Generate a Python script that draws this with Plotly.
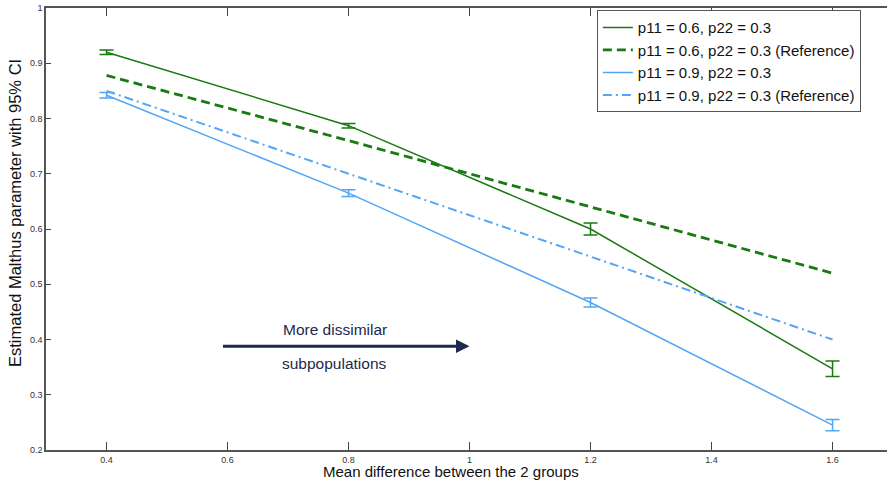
import plotly.graph_objects as go

x_vals = [0.4, 0.8, 1.2, 1.6]
green_est = [0.920, 0.787, 0.600, 0.347]
green_err = [0.004, 0.004, 0.011, 0.014]
green_ref = [0.878, 0.760, 0.640, 0.520]
blue_est = [0.842, 0.665, 0.467, 0.245]
blue_err = [0.005, 0.006, 0.008, 0.010]
blue_ref = [0.850, 0.700, 0.550, 0.400]

x_ticks = [0.4, 0.6, 0.8, 1.0, 1.2, 1.4, 1.6]
x_tick_labels = ["0.4", "0.6", "0.8", "1", "1.2", "1.4", "1.6"]
y_ticks = [0.2, 0.3, 0.4, 0.5, 0.6, 0.7, 0.8, 0.9, 1.0]
y_tick_labels = ["0.2", "0.3", "0.4", "0.5", "0.6", "0.7", "0.8", "0.9", "1"]

GREEN = "#1a7a12"
BLUE = "#55a5f5"
NAVY = "#1c2a4e"
FONT = "Liberation Sans, Arial, sans-serif"

fig = go.Figure()
fig.add_trace(go.Scatter(
    x=x_vals, y=green_est, mode="lines", name="p11 = 0.6, p22 = 0.3",
    line=dict(color=GREEN, width=1.5),
    error_y=dict(type="data", array=green_err, color=GREEN, thickness=1.5, width=7)))
fig.add_trace(go.Scatter(
    x=x_vals, y=green_ref, mode="lines", name="p11 = 0.6, p22 = 0.3 (Reference)",
    line=dict(color=GREEN, width=2.8, dash="9px,5px")))
fig.add_trace(go.Scatter(
    x=x_vals, y=blue_est, mode="lines", name="p11 = 0.9, p22 = 0.3",
    line=dict(color=BLUE, width=1.5),
    error_y=dict(type="data", array=blue_err, color=BLUE, thickness=1.5, width=7)))
fig.add_trace(go.Scatter(
    x=x_vals, y=blue_ref, mode="lines", name="p11 = 0.9, p22 = 0.3 (Reference)",
    line=dict(color=BLUE, width=2, dash="9px,4px,2px,4px")))

fig.add_annotation(x=1.0, y=0.388, ax=0.59, ay=0.388, xref="x", yref="y",
                   axref="x", ayref="y", showarrow=True, arrowhead=2,
                   arrowsize=0.9, arrowwidth=3, arrowcolor=NAVY, text="")
fig.add_annotation(x=0.778, y=0.418, xref="x", yref="y", showarrow=False,
                   text="More dissimilar", font=dict(size=15.5, color=NAVY, family=FONT))
fig.add_annotation(x=0.777, y=0.357, xref="x", yref="y", showarrow=False,
                   text="subpopulations", font=dict(size=15.5, color=NAVY, family=FONT))

# axis titles (placed as annotations relative to plot area)
fig.add_annotation(x=(451 - 46) / 841, y=-(471 - 450) / 442, xref="paper", yref="paper",
                   showarrow=False, xanchor="center", yanchor="middle",
                   text="Mean difference between the 2 groups",
                   font=dict(size=15, color="#111", family=FONT))
fig.add_annotation(x=-(46 - 15) / 841, y=(450 - 213) / 442, xref="paper", yref="paper",
                   showarrow=False, xanchor="center", yanchor="middle", textangle=-90,
                   text="Estimated Malthus parameter with 95% CI",
                   font=dict(size=16.5, color="#111", family=FONT))

fig.update_layout(
    width=887, height=489,
    margin=dict(l=46, r=0, t=8, b=39),
    plot_bgcolor="white", paper_bgcolor="white",
    font=dict(family=FONT, color="#111"),
    showlegend=True,
    legend=dict(x=0.655, y=0.995, xanchor="left", yanchor="top",
                bgcolor="white", bordercolor="#555", borderwidth=1,
                font=dict(size=15, color="#111"), tracegroupgap=0,
                itemwidth=30),
    xaxis=dict(range=[0.3, 1.69], tickvals=x_ticks, ticktext=x_tick_labels,
               ticks="inside", ticklen=8, tickwidth=1, tickcolor="#444",
               showline=True, linecolor="#555", linewidth=1.5, mirror="ticks",
               showgrid=False, zeroline=False, automargin=False,
               tickfont=dict(size=9, color="#333")),
    yaxis=dict(range=[0.2, 1.0], tickvals=y_ticks, ticktext=y_tick_labels,
               ticks="inside", ticklen=5, tickwidth=1, tickcolor="#444",
               showline=True, linecolor="#555", linewidth=1.5, mirror=False,
               showgrid=False, zeroline=False, automargin=False,
               tickfont=dict(size=9, color="#333")),
)

fig.write_html("out.html", config={"displayModeBar": False},
               post_script="document.body.style.margin='0';")
